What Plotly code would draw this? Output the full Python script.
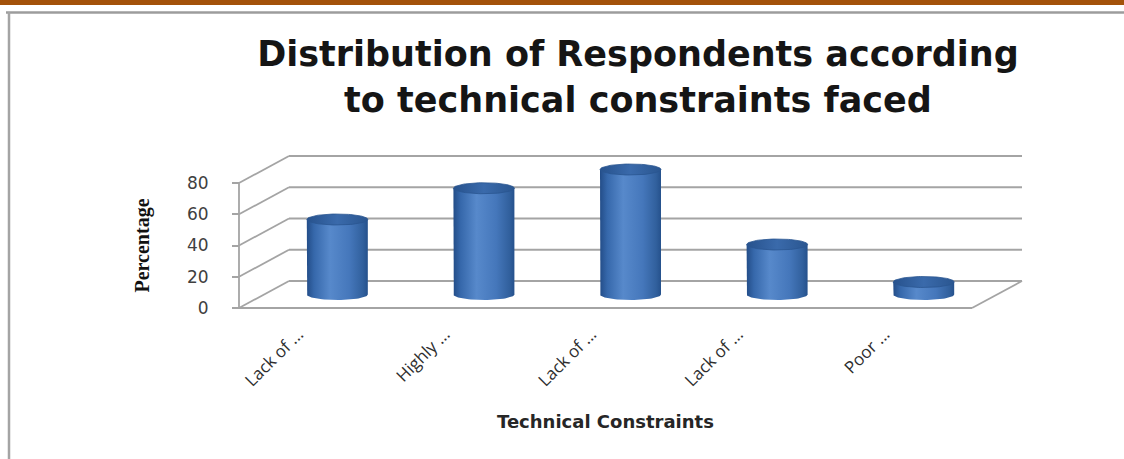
import numpy as np
import plotly.graph_objects as go

# ---- data -------------------------------------------------------------
tick_labels = ["Lack of ...", "Highly ...", "Lack of ...", "Lack of ...", "Poor ..."]
percentages = [48, 68, 80, 32, 8]
y_ticks = [0, 20, 40, 60, 80]
y_tick_labels = ["0", "20", "40", "60", "80"]

# ---- geometry of the pseudo-3D box -----------------------------------
W, H = 1124, 459
X_UNIT = 146.6          # px per category
Y_UNIT = 1.5625         # px per percentage point
DEPTH_X = 50 / X_UNIT   # oblique depth offset (x units)
DEPTH_Y = 27 / Y_UNIT   # oblique depth offset (y units)
PAD = 4                 # px of breathing room so edge lines are not clipped
FRONT_LEFT_PX = (239, 308)

n = len(percentages)
y_top = y_ticks[-1]
x_lo, x_hi = -0.5, n - 0.5
xr = [x_lo - PAD / X_UNIT, x_hi + DEPTH_X + PAD / X_UNIT]
yr = [-PAD / Y_UNIT, y_top + DEPTH_Y + PAD / Y_UNIT]

pw = (xr[1] - xr[0]) * X_UNIT
ph = (yr[1] - yr[0]) * Y_UNIT
m_l = FRONT_LEFT_PX[0] - PAD
m_b = H - FRONT_LEFT_PX[1] - PAD
m_r = W - m_l - pw
m_t = H - m_b - ph


def paper_x(px):
    return (px - m_l) / pw


def paper_y(py):
    return (H - m_b - py) / ph


GRID = "#a4a4a4"
fig = go.Figure()


def seg(xs, ys, color=GRID, width=1.8):
    fig.add_trace(go.Scatter(x=xs, y=ys, mode="lines", hoverinfo="skip",
                             line=dict(color=color, width=width), showlegend=False))


# back wall gridlines and left wall diagonals
for t in y_ticks:
    seg([x_lo + DEPTH_X, x_hi + DEPTH_X], [t + DEPTH_Y, t + DEPTH_Y])
    seg([x_lo, x_lo + DEPTH_X], [t, t + DEPTH_Y])
# front vertical axis, floor front and right edges
seg([x_lo, x_lo], [0, y_top])
seg([x_lo, x_hi], [0, 0])
seg([x_hi, x_hi + DEPTH_X], [0, DEPTH_Y])

# ---- cylinders --------------------------------------------------------
R = 30.5 / X_UNIT        # horizontal radius
E = 5.5 / Y_UNIT         # vertical radius of the elliptical caps
base = DEPTH_Y / 2
body_scale = [[0.0, "#234d88"], [0.12, "#3668ab"], [0.38, "#5789cb"],
              [0.7, "#4577bb"], [0.92, "#31609d"], [1.0, "#25518c"]]
cap_scale = [[0.0, "#27528d"], [0.5, "#3a6aab"], [1.0, "#2a5690"]]

th_low = np.linspace(np.pi, 2 * np.pi, 40)
th_all = np.linspace(0, 2 * np.pi, 80)
for i, v in enumerate(percentages):
    xc = i + DEPTH_X / 2
    top = v + base
    bx = np.concatenate([[xc - R, xc - R], xc + R * np.cos(th_low), [xc + R, xc - R]])
    by = np.concatenate([[top, base], base + E * np.sin(th_low), [top, top]])
    fig.add_trace(go.Scatter(x=bx, y=by, mode="lines", fill="toself",
                             line=dict(width=0, color="#2f5f9f"),
                             fillgradient=dict(type="horizontal", colorscale=body_scale),
                             hoverinfo="skip", showlegend=False))
    fig.add_trace(go.Scatter(x=xc + R * np.cos(th_all), y=top + E * np.sin(th_all),
                             mode="lines", fill="toself",
                             line=dict(width=0.8, color="#2a5690"),
                             fillgradient=dict(type="horizontal", colorscale=cap_scale),
                             hoverinfo="skip", showlegend=False))

# ---- axes -------------------------------------------------------------
fig.update_xaxes(range=xr, showgrid=False, zeroline=False, showline=False,
                 tickmode="array", tickvals=list(range(n)), ticktext=tick_labels,
                 tickangle=-45, ticks="", ticklabelstandoff=12, ticklabelshift=-14,
                 tickfont=dict(family="Open Sans", size=17, color="#2e2e2e"),
                 anchor="free", position=paper_y(FRONT_LEFT_PX[1]))
fig.update_yaxes(range=yr, showgrid=False, zeroline=False, showline=False,
                 tickmode="array", tickvals=y_ticks, ticktext=y_tick_labels,
                 ticks="outside", ticklen=7, tickwidth=1.5, tickcolor=GRID,
                 ticklabelstandoff=20,
                 tickfont=dict(family="DejaVu Sans", size=17, color="#404040"),
                 anchor="free", position=paper_x(FRONT_LEFT_PX[0]))

# ---- texts ------------------------------------------------------------
fig.add_annotation(text="Percentage", textangle=-90, xref="paper", yref="y",
                   x=paper_x(142), y=y_top / 2, xanchor="center", yanchor="middle",
                   showarrow=False,
                   font=dict(family="Liberation Serif", size=20, color="#111111", weight="bold"))
fig.add_annotation(text="Technical Constraints", xref="x", yref="paper",
                   x=(n - 1) / 2, y=paper_y(421), xanchor="center", yanchor="middle",
                   showarrow=False,
                   font=dict(family="DejaVu Sans", size=18, color="#262626", weight="bold"))

# ---- page frame -------------------------------------------------------
fig.add_shape(type="rect", xref="paper", yref="paper", x0=paper_x(0), x1=paper_x(W),
              y0=paper_y(0), y1=paper_y(5), fillcolor="#a3520a", line=dict(width=0))
fig.add_shape(type="line", xref="paper", yref="paper", x0=paper_x(6), x1=paper_x(W),
              y0=paper_y(12.5), y1=paper_y(12.5), line=dict(color="#9c9c9c", width=2.5))
fig.add_shape(type="line", xref="paper", yref="paper", x0=paper_x(9), x1=paper_x(9),
              y0=paper_y(12), y1=paper_y(H), line=dict(color="#a4a4a4", width=2.5))

fig.update_layout(
    width=W, height=H,
    margin=dict(l=m_l, r=m_r, t=m_t, b=m_b, autoexpand=False),
    paper_bgcolor="white", plot_bgcolor="rgba(0,0,0,0)",
    title=dict(text="Distribution of Respondents according<br>to technical constraints faced",
               x=638 / W, xanchor="center", xref="container",
               y=1 - 66 / H, yanchor="top", yref="container",
               font=dict(family="DejaVu Sans", size=35, color="#151515", weight="bold")),
)

fig.write_html("out.html")
